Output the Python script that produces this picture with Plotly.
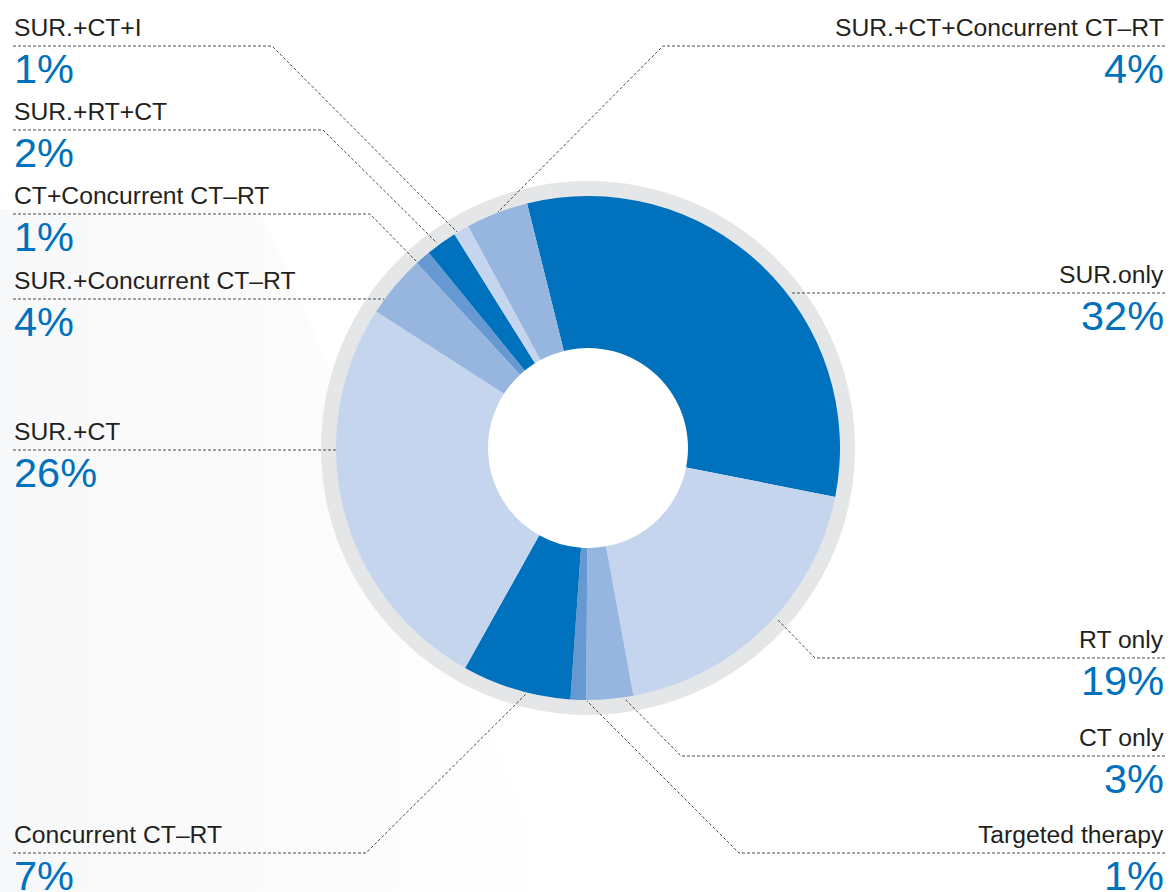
import plotly.graph_objects as go

# Treatment mix, clockwise from the top of the ring
categories = [
    "SUR.only",
    "RT only",
    "CT only",
    "Targeted therapy",
    "Concurrent CT–RT",
    "SUR.+CT",
    "SUR.+Concurrent CT–RT",
    "CT+Concurrent CT–RT",
    "SUR.+RT+CT",
    "SUR.+CT+I",
    "SUR.+CT+Concurrent CT–RT",
]
shares = [32, 19, 3, 1, 7, 26, 4, 1, 2, 1, 4]

DARK, LIGHT, MEDIUM, MID = "#0071BC", "#C6D5EE", "#97B6DF", "#6699D1"
slice_colors = [DARK, LIGHT, MEDIUM, MID, DARK, LIGHT, MEDIUM, MID, DARK, LIGHT, MEDIUM]

W, H = 1171, 892
CX, CY = 588, 448          # ring centre in px
R_PIE, R_RING = 252, 267   # donut radius and grey halo radius
HOLE_R = 100

# Callout geometry in px: side of the page and the dotted leader polyline
callouts = {
    "SUR.+CT+I":                ("left",  [(13, 46), (272, 46), (457, 232)]),
    "SUR.+RT+CT":               ("left",  [(13, 130), (323, 130), (437, 243)]),
    "CT+Concurrent CT–RT":      ("left",  [(13, 214), (370, 214), (417, 262)]),
    "SUR.+Concurrent CT–RT":    ("left",  [(13, 299), (384, 299)]),
    "SUR.+CT":                  ("left",  [(13, 450), (337, 450)]),
    "Concurrent CT–RT":         ("left",  [(13, 853), (366, 853), (527, 693)]),
    "SUR.+CT+Concurrent CT–RT": ("right", [(1165, 46), (663, 46), (498, 212)]),
    "SUR.only":                 ("right", [(1165, 293), (790, 293)]),
    "RT only":                  ("right", [(1165, 658), (815, 658), (777, 619)]),
    "CT only":                  ("right", [(1165, 756), (681, 756), (625, 699)]),
    "Targeted therapy":         ("right", [(1165, 853), (739, 853), (587, 701)]),
}


def dom(cx, cy, r):
    return dict(x=[(cx - r) / W, (cx + r) / W], y=[1 - (cy + r) / H, 1 - (cy - r) / H])


fig = go.Figure()

# very faint grey wash in the lower-left corner of the page
fig.add_trace(go.Scatter(
    x=[0, 260, 560, 0, 0], y=[210, 210, 892, 892, 210],
    mode="lines", line=dict(width=0), fill="toself",
    fillgradient=dict(type="horizontal",
                      colorscale=[[0, "#F7F8F9"], [0.5, "#FBFBFC"], [1, "#FFFFFF"]]),
    hoverinfo="skip", showlegend=False,
))

# grey halo behind the donut
fig.add_trace(go.Pie(
    values=[1], labels=["halo"], domain=dom(CX, CY, R_RING), hole=(R_PIE - 2) / R_RING,
    marker=dict(colors=["#E5E6E8"], line=dict(width=0)), textinfo="none",
    hoverinfo="skip", showlegend=False, sort=False,
))

fig.add_trace(go.Pie(
    values=shares, labels=categories, domain=dom(CX, CY, R_PIE), hole=HOLE_R / R_PIE,
    sort=False, direction="clockwise", rotation=-14,
    marker=dict(colors=slice_colors, line=dict(width=0)),
    textinfo="none", showlegend=False,
))

LABEL_SIZE, VALUE_SIZE = 24.7, 41.5
FONT = "Liberation Sans, Arial, Helvetica, sans-serif"

shapes, annotations = [], []
for name, share in zip(categories, shares):
    side, pts = callouts[name]
    path = "M " + " L ".join(f"{x},{y}" for x, y in pts)
    shapes.append(dict(type="path", path=path, xref="x", yref="y",
                       line=dict(color="#4A4A4A", width=1, dash="3px,2px")))
    line_y = pts[0][1]
    x = pts[0][0]
    anchor = "left" if side == "left" else "right"
    annotations.append(dict(
        x=x, y=line_y - 18.8, xref="x", yref="y", xanchor=anchor, yanchor="middle",
        text=name, showarrow=False, borderpad=0,
        font=dict(family=FONT, size=LABEL_SIZE, color="#231F20"),
    ))
    annotations.append(dict(
        x=x, y=line_y + 22.5, xref="x", yref="y", xanchor=anchor, yanchor="middle",
        text=f"{share}%", showarrow=False, borderpad=0,
        font=dict(family=FONT, size=VALUE_SIZE, color="#0071BC"),
    ))

fig.update_layout(
    width=W, height=H, margin=dict(l=0, r=0, t=0, b=0),
    paper_bgcolor="white", plot_bgcolor="rgba(0,0,0,0)",
    xaxis=dict(range=[0, W], visible=False, fixedrange=True),
    yaxis=dict(range=[H, 0], visible=False, fixedrange=True),
    shapes=shapes, annotations=annotations, showlegend=False,
)

fig.write_html("out.html")
